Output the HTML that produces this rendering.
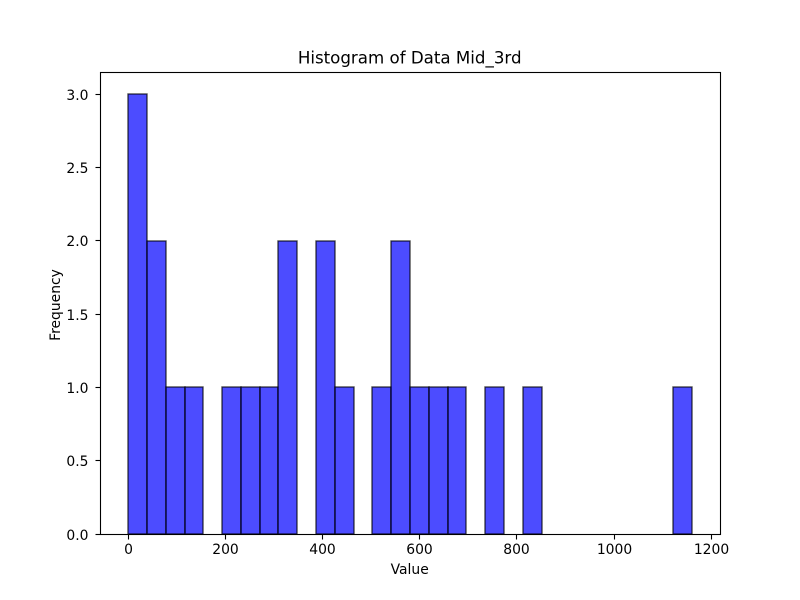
<!DOCTYPE html>
<html>
<head>
<meta charset="utf-8">
<style>
html,body{margin:0;padding:0;background:#fff;}
svg{display:block;}
text{font-family:"DejaVu Sans",sans-serif;fill:#000;}
</style>
</head>
<body>
<svg id="chart" width="800" height="600" viewBox="0 0 800 600" xmlns="http://www.w3.org/2000/svg">
  <rect x="0" y="0" width="800" height="600" fill="#fff"/>
  <g id="bars"></g>
  <rect x="100.5" y="72.5" width="620" height="462" fill="none" stroke="#000" stroke-width="1.1"/>
  <g id="x-axis"></g>
  <g id="y-axis"></g>
  <text x="409.7" y="63.5" font-size="16.67" text-anchor="middle">Histogram of Data Mid_3rd</text>
  <text x="409.7" y="574" font-size="13.89" text-anchor="middle">Value</text>
  <text transform="translate(60,305) rotate(-90)" font-size="13.89" text-anchor="middle">Frequency</text>
</svg>
<script>
const binCounts = [3,2,1,1,0,1,1,1,2,0,2,1,0,1,2,1,1,1,0,1,0,1,0,0,0,0,0,0,0,1];
const dataMin = 0;
const dataMax = 1160;
const xTickValues = [0,200,400,600,800,1000,1200];
const yTickValues = [0,0.5,1,1.5,2,2.5,3];

const NS = 'http://www.w3.org/2000/svg';
const plot = {left:100, right:720, top:72, bottom:534};
const xSpan = dataMax - dataMin;
const xMin = dataMin - xSpan * 0.05;
const xMax = dataMax + xSpan * 0.05;
const yMax = Math.max(...binCounts) * 1.05;
function xScale(v){ return plot.left + (v - xMin) / (xMax - xMin) * (plot.right - plot.left); }
function yScale(v){ return plot.bottom - v / yMax * (plot.bottom - plot.top); }
function make(tag, attrs, parent){
  const el = document.createElementNS(NS, tag);
  for (const k in attrs) el.setAttribute(k, attrs[k]);
  parent.appendChild(el);
  return el;
}
const barsGroup = document.getElementById('bars');
const binWidth = xSpan / binCounts.length;
binCounts.forEach(function(count, i){
  if (count <= 0) return;
  const x0 = Math.round(xScale(dataMin + i * binWidth));
  const x1 = Math.round(xScale(dataMin + (i + 1) * binWidth));
  const y = Math.round(yScale(count));
  const bar = make('rect', {x:x0, y:y, width:x1 - x0, height:Math.round(yScale(0)) - y, fill:'rgba(0,0,255,0.7)', stroke:'rgba(0,0,0,0.7)', 'stroke-width':1.39}, barsGroup);
  
  
});
const xAxis = document.getElementById('x-axis');
xTickValues.forEach(function(v){
  const x = Math.floor(xScale(v)) + 0.5;
  const tick = make('line', {x1:x, x2:x, y1:plot.bottom + 0.5, y2:plot.bottom + 5.5, stroke:'#000', 'stroke-width':1.1}, xAxis);
  
  
  const label = make('text', {x:x, y:554, 'font-size':13.89, 'text-anchor':'middle'}, xAxis);
  
  
  label.textContent = String(v);
});
const yAxis = document.getElementById('y-axis');
yTickValues.forEach(function(v){
  const y = Math.floor(yScale(v)) + 0.5;
  const tick = make('line', {x1:plot.left - 4.5, x2:plot.left + 0.5, y1:y, y2:y, stroke:'#000', 'stroke-width':1.1}, yAxis);
  
  
  const label = make('text', {x:plot.left - 11.5, y:y + 5.5, 'font-size':13.89, 'text-anchor':'end'}, yAxis);
  
  
  label.textContent = v.toFixed(1);
});
</script>
</body>
</html>
